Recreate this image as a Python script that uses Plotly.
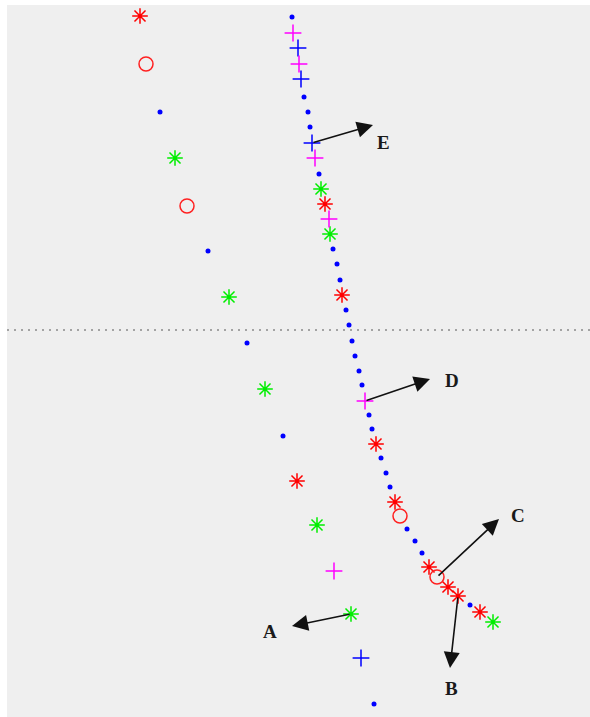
import plotly.graph_objects as go

# Marker positions (pixel-like plane coordinates, y grows downward)
red_star_x = [140, 297, 325, 342, 376, 395, 429, 448, 458, 480]
red_star_y = [16, 481, 204, 295, 444, 502, 567, 587, 596, 612]

red_circle_x = [146, 187, 400, 437]
red_circle_y = [64, 206, 516, 577]

green_star_x = [175, 229, 265, 317, 351, 321, 330, 493]
green_star_y = [158, 297, 389, 525, 614, 189, 234, 622]

blue_dot_x = [160, 208, 247, 283, 374,
              292, 304, 308, 310, 319, 333, 337, 340, 346, 349, 352, 355,
              359, 362, 369, 372, 381, 386, 390, 407, 415, 422, 470]
blue_dot_y = [112, 251, 343, 436, 704,
              17, 97, 112, 127, 174, 249, 264, 280, 310, 325, 341, 356,
              371, 385, 415, 429, 458, 473, 487, 529, 541, 553, 605]

blue_plus_x = [298, 301, 312, 361]
blue_plus_y = [48, 79, 143, 658]

magenta_plus_x = [293, 299, 315, 329, 365, 334]
magenta_plus_y = [33, 64, 158, 219, 401, 571]

# Labelled vectors: start point, tip, label position
arrow_labels = ["A", "B", "C", "D", "E"]
arrow_start_x = [351, 458, 437, 365, 312]
arrow_start_y = [614, 596, 577, 401, 143]
arrow_tip_x = [292, 450, 499, 430, 373]
arrow_tip_y = [626, 668, 519, 379, 125]
label_x = [270, 451, 518, 452, 383]
label_y = [631, 688, 515, 380, 142]

divider_y = 330

fig = go.Figure()

def add_markers(xs, ys, symbol, color, size, width):
    fig.add_trace(go.Scatter(
        x=xs, y=ys, mode="markers", hoverinfo="skip",
        marker=dict(symbol=symbol, size=size, color=color,
                    line=dict(color=color, width=width)),
    ))

add_markers(blue_dot_x, blue_dot_y, "circle", "#0000ff", 5, 0)
add_markers(red_star_x, red_star_y, "asterisk-open", "#ff0000", 13, 1.5)
add_markers(green_star_x, green_star_y, "asterisk-open", "#00ee00", 13, 1.5)
add_markers(red_circle_x, red_circle_y, "circle-open", "#ff2020", 14, 1.5)
add_markers(blue_plus_x, blue_plus_y, "cross-thin-open", "#0000ff", 12, 1.5)
add_markers(magenta_plus_x, magenta_plus_y, "cross-thin-open", "#ff00ff", 12, 1.5)

fig.add_shape(type="line", xref="paper", x0=0, x1=1, yref="y",
              y0=divider_y, y1=divider_y,
              line=dict(color="#8a8a8a", width=1.6, dash="2px,5px"))

for lab, sx, sy, tx, ty, lx, ly in zip(arrow_labels, arrow_start_x, arrow_start_y,
                                       arrow_tip_x, arrow_tip_y, label_x, label_y):
    fig.add_annotation(x=tx, y=ty, ax=sx, ay=sy, xref="x", yref="y",
                       axref="x", ayref="y", text="", showarrow=True,
                       arrowhead=2, arrowsize=2.0, arrowwidth=1.6,
                       arrowcolor="#111111", standoff=0)
    fig.add_annotation(x=lx, y=ly, xref="x", yref="y",
                       text="<b>" + lab + "</b>", showarrow=False,
                       font=dict(family="Liberation Serif, DejaVu Serif, serif",
                                 size=19, color="#1a1a1a"))

fig.update_layout(
    width=590, height=717,
    margin=dict(l=7, r=0, t=5, b=0),
    paper_bgcolor="white", plot_bgcolor="#efefef",
    showlegend=False,
    xaxis=dict(range=[7, 590], visible=False, fixedrange=True),
    yaxis=dict(range=[717, 5], visible=False, fixedrange=True),
)

fig.write_html("out.html")
